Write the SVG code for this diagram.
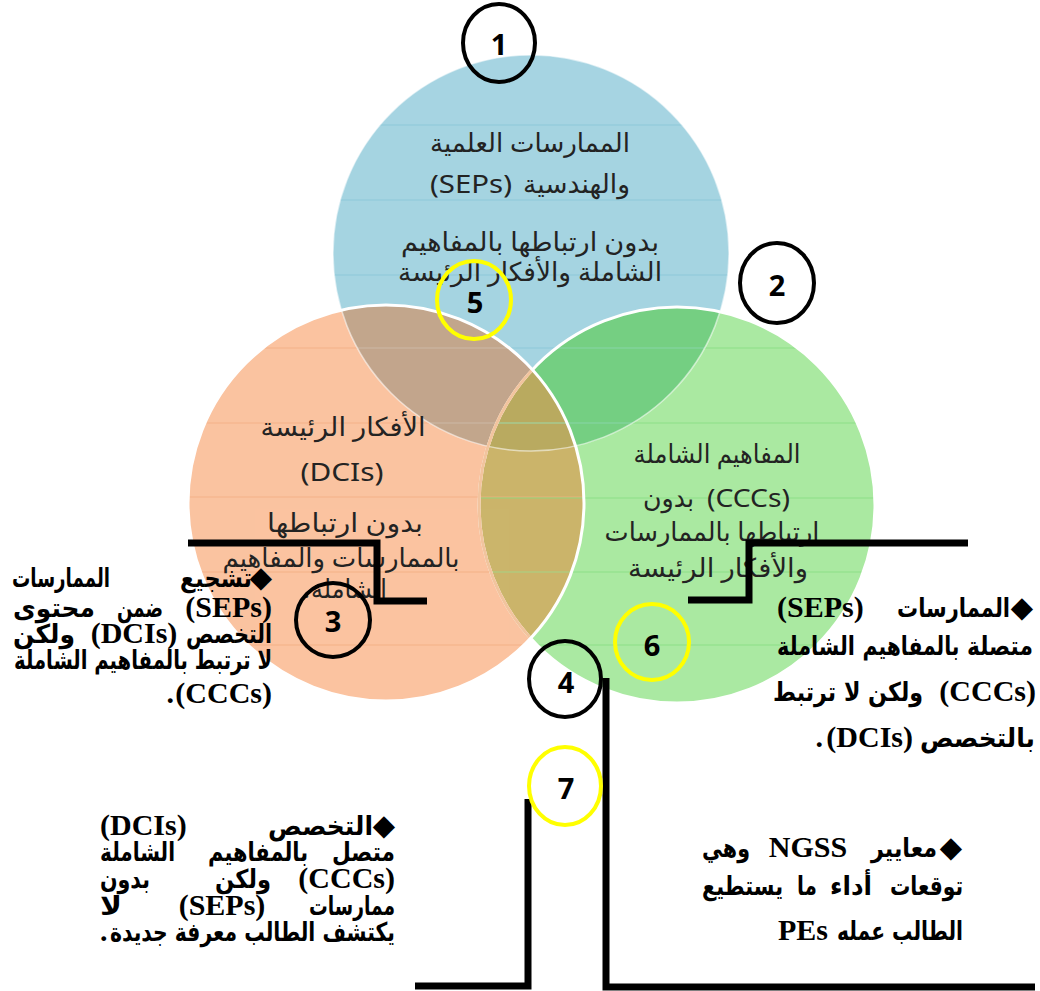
<svg xmlns="http://www.w3.org/2000/svg" width="1040" height="991" viewBox="0 0 1040 991">
<style>
.ct{font-family:'Noto Sans','DejaVu Sans',sans-serif;font-size:26px;fill:#232323;text-anchor:middle}
.lt{font-family:'Liberation Serif',serif;font-weight:bold;font-size:30px;fill:#000}
.ar{font-family:'DejaVu Sans',sans-serif;font-weight:bold;font-size:26px;fill:#000}
.dm{font-family:'DejaVu Sans',sans-serif;font-size:29px;fill:#000}
.num{font-family:'Open Sans','DejaVu Sans',sans-serif;font-weight:bold;font-size:29px;fill:#000;text-anchor:middle}
.kc{fill:none;stroke:#000;stroke-width:4}
.yc{fill:none;stroke:#ffff00;stroke-width:4}
.conn{fill:none;stroke:#000;stroke-width:7}
.e{text-anchor:end}.s{text-anchor:start}.m{text-anchor:middle}
</style>
<defs>
<clipPath id="cB"><circle cx="531" cy="253" r="198"/></clipPath>
<clipPath id="cO"><circle cx="386" cy="503" r="198"/></clipPath>
<clipPath id="cG"><circle cx="677" cy="505" r="198"/></clipPath>
</defs>
<rect width="1040" height="991" fill="#fff"/>
<g id="venn">
<circle cx="531" cy="253" r="198" fill="#a6d4e2"/>
<circle cx="677" cy="505" r="198" fill="#aae9a2"/>
<circle cx="386" cy="503" r="198" fill="#fbc3a0"/>
<g clip-path="url(#cB)"><circle cx="386" cy="503" r="198" fill="#c2a78c"/></g>
<g clip-path="url(#cB)"><circle cx="677" cy="505" r="198" fill="#76cf82"/></g>
<g clip-path="url(#cO)"><circle cx="677" cy="505" r="198" fill="#cbb66c"/></g>
<g clip-path="url(#cB)"><g clip-path="url(#cO)"><circle cx="677" cy="505" r="198" fill="#b9aa62"/></g></g>
<g clip-path="url(#cB)" stroke="#86c3d6" stroke-width="1.2" opacity="0.8">
<line x1="300" y1="125" x2="760" y2="125"/><line x1="300" y1="200" x2="760" y2="200"/><line x1="300" y1="275" x2="760" y2="275"/><line x1="300" y1="348" x2="760" y2="348"/><line x1="300" y1="423" x2="760" y2="423"/>
</g>
<g clip-path="url(#cO)" stroke="#f4ad82" stroke-width="1.2" opacity="0.8">
<line x1="180" y1="348" x2="600" y2="348"/><line x1="180" y1="423" x2="600" y2="423"/><line x1="180" y1="497" x2="600" y2="497"/><line x1="180" y1="572" x2="600" y2="572"/><line x1="180" y1="645" x2="600" y2="645"/>
</g>
<g clip-path="url(#cG)" stroke="#86dd80" stroke-width="1.2" opacity="0.8">
<line x1="470" y1="348" x2="880" y2="348"/><line x1="470" y1="423" x2="880" y2="423"/><line x1="470" y1="498" x2="880" y2="498"/><line x1="470" y1="572" x2="880" y2="572"/><line x1="470" y1="645" x2="880" y2="645"/>
</g>
<circle cx="531" cy="253" r="198" fill="none" stroke="#fff" stroke-opacity="0.55" stroke-width="1.5"/>
<circle cx="677" cy="505" r="198" fill="none" stroke="#fff" stroke-width="3"/>
<g clip-path="url(#cO)"><circle cx="677" cy="505" r="198" fill="none" stroke="#f2c49e" stroke-width="3"/></g>
<circle cx="386" cy="503" r="198" fill="none" stroke="#fff" stroke-width="3"/>
</g>
<g id="sep-text">
<text class="ct" x="530" y="152" textLength="200" lengthAdjust="spacingAndGlyphs">الممارسات العلمية</text>
<text class="ct e" x="630" y="193" textLength="107" lengthAdjust="spacingAndGlyphs">والهندسية</text>
<text class="ct s" x="430" y="193" textLength="82" lengthAdjust="spacingAndGlyphs">(SEPs)</text>
<text class="ct" x="530" y="251" textLength="258" lengthAdjust="spacingAndGlyphs">بدون ارتباطها بالمفاهيم</text>
<text class="ct" x="530" y="281" textLength="264" lengthAdjust="spacingAndGlyphs">الشاملة والأفكار الرئيسة</text>
</g>
<g id="dci-text">
<text class="ct" x="343" y="436" textLength="165" lengthAdjust="spacingAndGlyphs">الأفكار الرئيسة</text>
<text class="ct" x="342" y="481" textLength="83" lengthAdjust="spacingAndGlyphs">(DCIs)</text>
<text class="ct" x="345" y="532" textLength="156" lengthAdjust="spacingAndGlyphs">بدون ارتباطها</text>
<text class="ct" x="341" y="567" textLength="237" lengthAdjust="spacingAndGlyphs">بالممارسات والمفاهيم</text>
<text class="ct e" x="387" y="598" textLength="76" lengthAdjust="spacingAndGlyphs">الشاملة</text>
<text class="ct s" x="303" y="598">.</text>
</g>
<g id="ccc-text">
<text class="ct" x="717" y="463" textLength="167" lengthAdjust="spacingAndGlyphs">المفاهيم الشاملة</text>
<text class="ct s" x="707" y="507" textLength="83" lengthAdjust="spacingAndGlyphs">(CCCs)</text>
<text class="ct e" x="694" y="507" textLength="51" lengthAdjust="spacingAndGlyphs">بدون</text>
<text class="ct" x="712" y="541" textLength="215" lengthAdjust="spacingAndGlyphs">ارتباطها بالممارسات</text>
<text class="ct" x="718" y="577" textLength="180" lengthAdjust="spacingAndGlyphs">والأفكار الرئيسة</text>
</g>
<g id="connectors">
<polyline class="conn" points="188,543 377,543 377,601 427,601"/>
<polyline class="conn" points="968,543 749,543 749,600 688,600"/>
<polyline class="conn" points="606,678 606,987 1035,987"/>
<polyline class="conn" points="528,799 528,986 415,986"/>
</g>
<g id="n1"><ellipse class="kc" cx="499" cy="43" rx="36" ry="39"/><text class="num" x="499" y="55">1</text></g>
<g id="n2"><ellipse class="kc" cx="777" cy="283" rx="37" ry="40"/><text class="num" x="777" y="296">2</text></g>
<g id="n3"><ellipse class="kc" cx="333" cy="620" rx="37" ry="37"/><text class="num" x="333" y="632">3</text></g>
<g id="n4"><ellipse class="kc" cx="565" cy="679" rx="36" ry="38"/><text class="num" x="566" y="693">4</text></g>
<g id="n5"><ellipse class="yc" cx="474" cy="300" rx="37" ry="39"/><text class="num" x="475" y="313">5</text></g>
<g id="n6"><ellipse class="yc" cx="652" cy="642" rx="37" ry="38"/><text class="num" x="652" y="656">6</text></g>
<g id="n7"><ellipse class="yc" cx="565" cy="786" rx="36" ry="39"/><text class="num" x="566" y="799">7</text></g>
<g id="note-left">
<text class="dm e" x="272" y="587">◆</text>
<text class="ar e" x="252" y="587" textLength="72" lengthAdjust="spacingAndGlyphs">تشجيع</text>
<text class="ar s" x="12" y="587" textLength="98" lengthAdjust="spacingAndGlyphs">الممارسات</text>
<text class="lt e" x="272" y="617">(SEPs)</text>
<text class="ar m" x="140" y="617" textLength="46" lengthAdjust="spacingAndGlyphs">ضمن</text>
<text class="ar s" x="13" y="617" textLength="82" lengthAdjust="spacingAndGlyphs">محتوى</text>
<text class="ar e" x="272" y="643" textLength="86" lengthAdjust="spacingAndGlyphs">التخصص</text>
<text class="lt m" x="134" y="643">(DCIs)</text>
<text class="ar s" x="13" y="643" textLength="62" lengthAdjust="spacingAndGlyphs">ولكن</text>
<text class="ar e" x="272" y="669" textLength="258" lengthAdjust="spacingAndGlyphs">لا ترتبط بالمفاهيم الشاملة</text>
<text class="lt e" x="272" y="703">(CCCs)</text>
<text class="lt e" x="174" y="703">.</text>
</g>
<g id="note-right">
<text class="dm e" x="1033" y="617">◆</text>
<text class="ar e" x="1010" y="617" textLength="113" lengthAdjust="spacingAndGlyphs">الممارسات</text>
<text class="lt s" x="777" y="617">(SEPs)</text>
<text class="ar e" x="1033" y="655" textLength="66" lengthAdjust="spacingAndGlyphs">متصلة</text>
<text class="ar m" x="911" y="655" textLength="97" lengthAdjust="spacingAndGlyphs">بالمفاهيم</text>
<text class="ar s" x="777" y="655" textLength="78" lengthAdjust="spacingAndGlyphs">الشاملة</text>
<text class="lt e" x="1036" y="701">(CCCs)</text>
<text class="ar e" x="923" y="701" textLength="150" lengthAdjust="spacingAndGlyphs">ولكن لا ترتبط</text>
<text class="ar e" x="1035" y="747" textLength="115" lengthAdjust="spacingAndGlyphs">بالتخصص</text>
<text class="lt e" x="913" y="747">(DCIs)</text>
<text class="lt e" x="823" y="747">.</text>
</g>
<g id="note-bottom-left">
<text class="dm e" x="395" y="835">◆</text>
<text class="ar e" x="373" y="835" textLength="105" lengthAdjust="spacingAndGlyphs">التخصص</text>
<text class="lt s" x="100" y="835">(DCIs)</text>
<text class="ar e" x="395" y="861" textLength="63" lengthAdjust="spacingAndGlyphs">متصل</text>
<text class="ar m" x="258" y="861" textLength="100" lengthAdjust="spacingAndGlyphs">بالمفاهيم</text>
<text class="ar s" x="100" y="861" textLength="75" lengthAdjust="spacingAndGlyphs">الشاملة</text>
<text class="lt e" x="395" y="888">(CCCs)</text>
<text class="ar m" x="243" y="888" textLength="56" lengthAdjust="spacingAndGlyphs">ولكن</text>
<text class="ar s" x="100" y="888" textLength="50" lengthAdjust="spacingAndGlyphs">بدون</text>
<text class="ar e" x="395" y="915" textLength="86" lengthAdjust="spacingAndGlyphs">ممارسات</text>
<text class="lt m" x="222" y="915">(SEPs)</text>
<text class="ar s" x="100" y="915" textLength="22" lengthAdjust="spacingAndGlyphs">لا</text>
<text class="ar e" x="395" y="941" textLength="285" lengthAdjust="spacingAndGlyphs">يكتشف الطالب معرفة جديدة</text>
<text class="lt s" x="100" y="941">.</text>
</g>
<g id="note-bottom-right">
<text class="dm e" x="962" y="857">◆</text>
<text class="ar e" x="937" y="857" textLength="66" lengthAdjust="spacingAndGlyphs">معايير</text>
<text class="lt m" x="808" y="857">NGSS</text>
<text class="ar s" x="702" y="857" textLength="48" lengthAdjust="spacingAndGlyphs">وهي</text>
<text class="ar e" x="963" y="895" textLength="73" lengthAdjust="spacingAndGlyphs">توقعات</text>
<text class="ar m" x="851" y="895" textLength="42" lengthAdjust="spacingAndGlyphs">أداء</text>
<text class="ar m" x="807" y="895" textLength="20" lengthAdjust="spacingAndGlyphs">ما</text>
<text class="ar s" x="702" y="895" textLength="81" lengthAdjust="spacingAndGlyphs">يستطيع</text>
<text class="ar e" x="963" y="940" textLength="126" lengthAdjust="spacingAndGlyphs">الطالب عمله</text>
<text class="lt s" x="778" y="940">PEs</text>
</g>
</svg>
